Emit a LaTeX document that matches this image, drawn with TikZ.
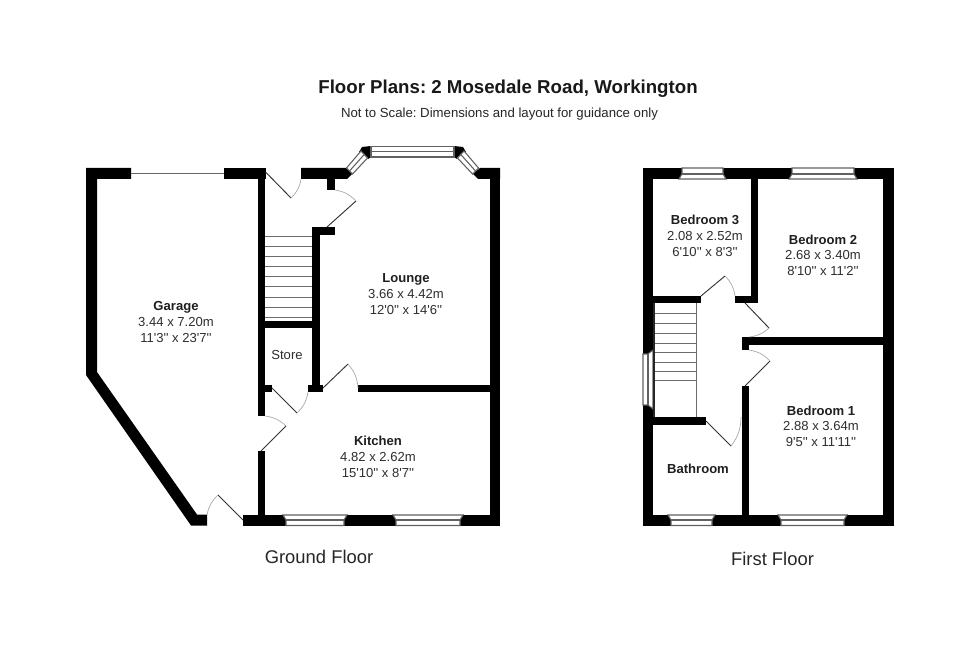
\documentclass[tikz,border=0pt]{standalone}
\usepackage{fontspec}
\newfontfamily\planfont{Liberation Sans}
\tikzset{
  wall/.style={fill=black,draw=none},
  win/.style={fill=white,draw=black!62,line width=0.8pt,line join=miter},
  glass/.style={draw=black!62,line width=0.8pt},
  tread/.style={draw=black!58,line width=0.75pt},
  leaf/.style={draw=black!80,line width=0.7pt},
  swing/.style={draw=black!35,line width=0.5pt},
  roomtitle/.style={font=\planfont\frenchspacing\fontsize{9.8}{12}\selectfont\bfseries,text=black!88,anchor=mid,inner sep=0pt},
  roomtext/.style={font=\planfont\frenchspacing\fontsize{9.8}{12}\selectfont,text=black!82,anchor=mid,inner sep=0pt},
  bigtext/.style={font=\planfont\frenchspacing\fontsize{13.8}{16}\selectfont,text=black!85,anchor=mid,inner sep=0pt}
}
\newcommand{\wl}[4]{\fill[wall] (#1,#2) rectangle (#3,#4);}
% door: hinge, tip, arc end, bend
\newcommand{\dr}[7]{\draw[leaf] (#1,#2) -- (#3,#4); \draw[swing] (#3,#4) to[bend #7=18] (#5,#6);}
\newcommand{\winbot}[2]{\draw[win] (#1,515) -- (#2,515) -- ({#2-3},520) -- ({#2-3},525.5) -- ({#1+3},525.5) -- ({#1+3},520) -- cycle; \draw[glass] ({#1+3},520) -- ({#2-3},520);}
\newcommand{\wintop}[2]{\draw[win] (#1,179) -- (#2,179) -- ({#2-3},174) -- ({#2-3},168) -- ({#1+3},168) -- ({#1+3},174) -- cycle; \draw[glass] ({#1+3},174) -- ({#2-3},174);}
\begin{document}
\begin{tikzpicture}[x=0.75pt,y=-0.75pt]
\useasboundingbox (0,0) rectangle (980,659);
\fill[white] (0,0) rectangle (980,659);
% titles
\node[font=\planfont\frenchspacing\fontsize{14}{16}\selectfont\bfseries,text=black!90,anchor=mid,inner sep=0pt] (title) at (508,91) {Floor Plans: 2 Mosedale Road, Workington};
\node[font=\planfont\frenchspacing\fontsize{9.9}{12}\selectfont,text=black!85,anchor=mid,inner sep=0pt] (subtitle) at (499.5,114.5) {Not to Scale: Dimensions and layout for guidance only};
% ---------- Ground floor walls
\fill[wall] (86,168) -- (131,168) -- (131,179) -- (97,179) -- (97,372) -- (197,514.5) -- (207,514.5) -- (207,525.5) -- (191,525.5) -- (86,375) -- cycle;
\wl{224}{168}{265.5}{179}
\wl{257.5}{168}{265}{416}
\wl{257.5}{451}{265}{520}
\wl{243}{515}{500}{525.5}
\wl{265}{385}{272}{392}
\wl{265}{321}{312}{328}
\wl{312}{227}{319.5}{392}
\wl{312}{227}{335}{235}
\wl{308}{385}{323}{392}
\wl{327}{179}{335}{190}
\wl{358}{385}{490}{392}
\wl{490}{168}{500}{525.5}
\fill[wall] (301,168) -- (346,168) -- (352,174) -- (347,179) -- (301,179) -- cycle;
\fill[wall] (473,174) -- (480,168) -- (500,168) -- (500,179) -- (478,179) -- cycle;
% bay
\fill[wall] (362,147) -- (371,146) -- (371,157) -- (368,159) -- (359,152) -- cycle;
\fill[wall] (454,146) -- (463,147) -- (466,152) -- (457,159) -- (454,157) -- cycle;
\draw[win] (371,146.5) rectangle (454,157);
\draw[glass] (371,151.7) -- (454,151.7);
\draw[win] (346.5,168) -- (361,151) -- (367.5,158) -- (352.5,174) -- cycle;
\draw[glass] (349.5,171) -- (364.2,154.5);
\draw[win] (478.5,168) -- (464,151) -- (457.5,158) -- (472.5,174) -- cycle;
\draw[glass] (475.5,171) -- (460.8,154.5);
% ground windows
\winbot{283}{347}
\winbot{393}{463}
% garage door
\draw[draw=black!60,line width=1.2pt] (131,173.5) -- (224,173.5);
% ground stairs
\foreach \yy in {236,246,256,266,276,286,297,307,317}{\draw[tread] (265,\yy) -- (312,\yy);}
% ground doors
\dr{265.5}{172}{291}{198}{301}{179}{right}
\dr{327}{227}{356}{201}{335}{190}{right}
\dr{272}{388}{297}{413}{308}{392}{right}
\dr{323}{388}{348}{364}{358}{388}{left}
\dr{261}{451}{286}{426}{265}{416}{right}
\dr{243}{520}{218}{495}{207}{515}{right}
% ---------- First floor walls
\wl{643}{168}{894}{179}
\wl{643}{168}{653}{525.5}
\wl{883}{168}{894}{525.5}
\wl{643}{515}{894}{525.5}
\wl{751}{179}{758}{303}
\wl{735}{296}{758}{303}
\wl{653}{296}{701}{303}
\wl{742}{337}{883}{345}
\wl{742}{337}{749}{350}
\wl{742}{386}{749}{515}
\wl{653}{417}{706}{425}
% first windows
\wintop{679}{726}
\wintop{789}{857}
\winbot{668}{715}
\winbot{778}{847}
% side window
\draw[win] (653,350) -- (653,409) -- (648,405) -- (643,405) -- (643,354) -- (648,354) -- cycle;
\draw[glass] (648,354) -- (648,405);
% first stairs
\foreach \yy in {313,323,333,343,352,362,371,380}{\draw[tread] (654,\yy) -- (696,\yy);}
\draw[tread] (696,303) -- (696,417);
\draw[draw=black!85,line width=0.8pt] (654,303) -- (654,417);
% first doors
\dr{701}{296}{725}{276}{735}{296}{left}
\dr{745}{303}{769}{328}{749}{337}{left}
\dr{745}{386}{770}{361}{749}{350}{right}
\dr{706}{421}{731}{446}{741}{417}{right}
% ---------- labels
\node[roomtitle] (garage) at (176,308) {Garage};
\node[roomtext] (garageM) at (176,324) {3.44 x 7.20m};
\node[roomtext] (garageF) at (176,340) {11'3'' x 23'7''};
\node[roomtitle] (lounge) at (406,280) {Lounge};
\node[roomtext] (loungeM) at (406,296) {3.66 x 4.42m};
\node[roomtext] (loungeF) at (406,312) {12'0'' x 14'6''};
\node[roomtext] (store) at (287,357) {Store};
\node[roomtitle] (kitchen) at (378,443) {Kitchen};
\node[roomtext] (kitchenM) at (378,459) {4.82 x 2.62m};
\node[roomtext] (kitchenF) at (378,475) {15'10'' x 8'7''};
\node[roomtitle] (bedB) at (705,222) {Bedroom 3};
\node[roomtext] (bedBM) at (705,238) {2.08 x 2.52m};
\node[roomtext] (bedBF) at (705,254) {6'10'' x 8'3''};
\node[roomtitle] (bedC) at (823,242) {Bedroom 2};
\node[roomtext] (bedCM) at (823,257) {2.68 x 3.40m};
\node[roomtext] (bedCF) at (823,273) {8'10'' x 11'2''};
\node[roomtitle] (bedA) at (821,413) {Bedroom 1};
\node[roomtext] (bedAM) at (821,428) {2.88 x 3.64m};
\node[roomtext] (bedAF) at (821,444) {9'5'' x 11'11''};
\node[roomtitle] (bath) at (698,471) {Bathroom};
\node[bigtext] (ground) at (319,560.5) {Ground Floor};
\node[bigtext] (first) at (772.5,562.5) {First Floor};
\end{tikzpicture}
\end{document}
